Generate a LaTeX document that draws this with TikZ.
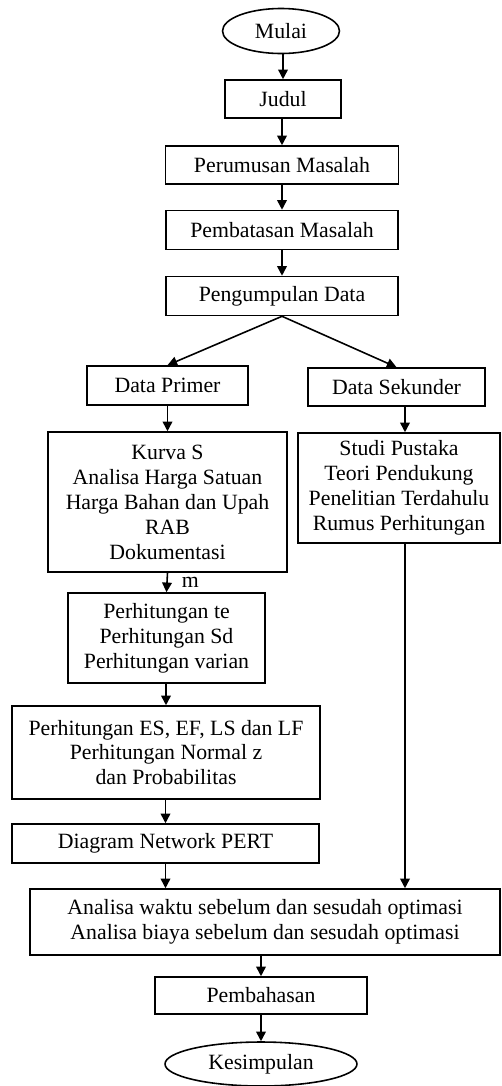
\documentclass[tikz,border=0pt]{standalone}
\usepackage{fontspec}
\setmainfont{Liberation Serif}
\usetikzlibrary{shapes.geometric,arrows.meta}

\begin{document}
\begin{tikzpicture}[x=0.02cm, y=-0.02cm,
    every node/.style={font=\fontsize{12.4}{14.2}\selectfont, align=center, inner sep=0pt},
    box/.style={draw, line width=0.9pt, rectangle},
    oval/.style={draw, line width=0.9pt, ellipse},
    arr/.style={line width=0.9pt, -{Triangle[length=5.5pt,width=5.5pt]}}]

\useasboundingbox (0,0) rectangle (502,1086);

% Draw nodes of the main column
\node[oval, minimum width=2.34cm, minimum height=0.9cm] (mulai) at (281,31) {Mulai};
\node[box, minimum width=2.32cm, minimum height=0.76cm] (judul) at (283,99) {Judul};
\node[box, minimum width=4.66cm, minimum height=0.76cm] (rumus) at (282,165) {Perumusan Masalah};
\node[box, minimum width=4.64cm, minimum height=0.78cm] (batas) at (282,230) {Pembatasan Masalah};
\node[box, minimum width=4.64cm, minimum height=0.78cm] (kumpul) at (282,296) {Pengumpulan Data};

% Draw left and right branches
\node[box, minimum width=3.22cm, minimum height=0.78cm] (primer) at (167.5,385.5) {Data Primer};
\node[box, minimum width=3.54cm, minimum height=0.76cm] (sekunder) at (396.5,387) {Data Sekunder};
\node[box, minimum width=4.78cm, minimum height=2.8cm] (kurva) at (167.5,502)
    {Kurva S\\Analisa Harga Satuan\\Harga Bahan dan Upah\\RAB\\Dokumentasi};
\node[box, minimum width=4.04cm, minimum height=2.2cm] (studi) at (399,488)
    {Studi Pustaka\\Teori Pendukung\\Penelitian Terdahulu\\Rumus Perhitungan};
\node[box, minimum width=3.94cm, minimum height=1.8cm] (te) at (166.5,638)
    {Perhitungan te\\Perhitungan Sd\\Perhitungan varian};
\node[box, minimum width=6.16cm, minimum height=1.86cm] (es) at (166,752.5)
    {Perhitungan ES, EF, LS dan LF\\Perhitungan Normal z\\dan Probabilitas};
\node[box, minimum width=6.14cm, minimum height=0.78cm] (pert) at (165.5,843.5) {Diagram Network PERT};

% Draw bottom part
\node[box, minimum width=9.4cm, minimum height=1.32cm] (analisa) at (265,922)
    {Analisa waktu sebelum dan sesudah optimasi\\Analisa biaya sebelum dan sesudah optimasi};
\node[box, minimum width=4.24cm, minimum height=0.74cm] (bahas) at (261,995.5) {Pembahasan};
\node[oval, minimum width=3.84cm, minimum height=0.88cm] (simpul) at (261,1064) {Kesimpulan};

\coordinate (kanan) at (405,0);

% Draw arrows
\foreach \a/\b in {mulai/judul, judul/rumus, rumus/batas, batas/kumpul, primer/kurva, te/es, es/pert, bahas/simpul}
    \draw[arr] (\b.north |- \a.south) -- (\b.north);
\draw[arr] (kumpul.south) -- (primer.north);
\draw[arr] (kumpul.south) -- (sekunder.north);
\draw[arr] (kurva.south) -- node[right=8pt] {m} (te.north);
\draw[arr] (sekunder.south -| kanan) -- (studi.north -| kanan);
\draw[arr] (studi.south -| kanan) -- (analisa.north -| kanan);
\draw[arr] (pert.south) -- (analisa.north -| pert.south);
\draw[arr] (bahas.north |- analisa.south) -- (bahas.north);

\end{tikzpicture}
\end{document}
